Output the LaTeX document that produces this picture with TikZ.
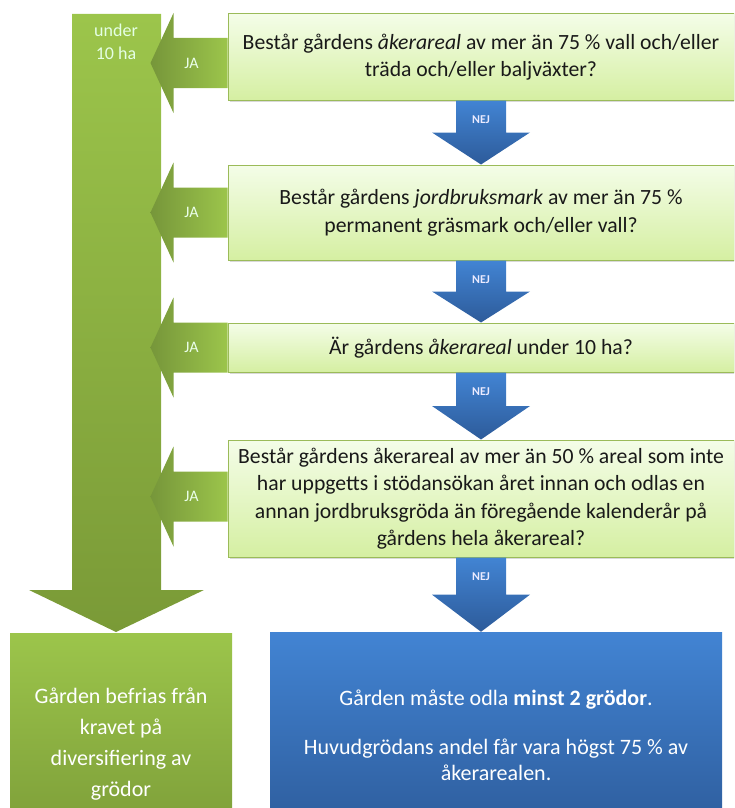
\documentclass[tikz,border=0pt]{standalone}
\usepackage{fontspec}
\setmainfont{Carlito}
\usetikzlibrary{calc,shadows}
\definecolor{gron1}{HTML}{9CC54B}
\definecolor{gron2}{HTML}{7A9A37}
\definecolor{jamork}{HTML}{76963A}
\definecolor{ljus1}{HTML}{F4FDE8}
\definecolor{ljus2}{HTML}{D5EFA2}
\definecolor{kant}{HTML}{9BBB59}
\definecolor{bla1}{HTML}{4284D3}
\definecolor{bla2}{HTML}{2D5B9A}
\tikzstyle{fraga} = [draw=kant, line width=1pt, top color=ljus1, bottom color=ljus2, minimum width=506pt, align=center, inner sep=0pt, text=black!90, font={\fontsize{21.7}{27.5}\selectfont}, drop shadow={opacity=0.3, shadow xshift=1.5pt, shadow yshift=-2pt}]
\tikzstyle{resultat} = [align=center, inner sep=0pt, text=white, font={\fontsize{22}{31}\selectfont}]
\tikzstyle{jatext} = [text=white!92!green, font={\fontsize{16}{18}\selectfont}]
\tikzstyle{nejtext} = [text=white!92!blue, font={\bfseries\fontsize{12}{14}\selectfont}]

\begin{document}
\begin{tikzpicture}[x=1pt,y=-1pt]
    \useasboundingbox (0,0) rectangle (734,808);
    \clip (0,0) rectangle (734,808);
    \shade[top color=gron1, bottom color=gron2] (72,14) -- (161,14) -- (161,590) -- (204,590) -- (116,632) -- (29,590) -- (72,590) -- cycle;
    \node[resultat, font={\fontsize{18}{23}\selectfont}, text=white!90!green](stapel) at (116,42){under\\10 ha};
    \node[fraga, minimum height=86pt](q1) at (481,57){Består gårdens \textit{åkerareal} av mer än 75~\% vall och/eller\\träda och/eller baljväxter?};
    \node[fraga, minimum height=95pt](q2) at (481,212.5){Består gårdens \textit{jordbruksmark} av mer än 75~\%\\permanent gräsmark och/eller vall?};
    \node[fraga, minimum height=49pt](q3) at (481,347.5){Är gårdens \textit{åkerareal} under 10~ha?};
    \node[fraga, minimum height=117pt](q4) at (481,498.5){Består gårdens åkerareal av mer än 50~\% areal som inte\\har uppgetts i stödansökan året innan och odlas en\\annan jordbruksgröda än föregående kalenderår på\\gårdens hela åkerareal?};
    \node[resultat, top color=gron1, bottom color=gron2, minimum width=222pt, minimum height=222pt](befrias) at (121,744){Gården befrias från\\kravet på\\diversifiering av\\grödor};
    \node[resultat, top color=bla1, bottom color=bla2, minimum width=452pt, minimum height=206pt, font={\fontsize{22}{26}\selectfont}](odla) at (496,735){Gården måste odla \textbf{minst 2 grödor}.\\[23pt]Huvudgrödans andel får vara högst 75~\% av\\åkerarealen.};
    \foreach \q/\dy in {q1/6,q2/0,q3/0,q4/-2}{
      \coordinate (ja\q) at ($(\q.west)+(0,\dy)$);
      \shade[left color=jamork, right color=gron1] ($(ja\q)+(0,-25)$) -- ($(ja\q)+(0,25)$) -- ($(ja\q)+(-54,25)$) -- ($(ja\q)+(-54,50)$) -- ($(ja\q)+(-77,0)$) -- ($(ja\q)+(-54,-50)$) -- ($(ja\q)+(-54,-25)$) -- cycle;
      \node[jatext](jatext\q) at ($(ja\q)+(-36,0)$){JA};
    }
    \foreach \a/\b in {q1/q2,q2/q3,q3/q4,q4/odla}{
      \coordinate (topp\a) at (\a.south);
      \coordinate (spets\a) at (\a.south |- \b.north);
      \coordinate (mitt\a) at ($(topp\a)!0.5!(spets\a)$);
      \shade[top color=bla1, bottom color=bla2] ($(topp\a)+(-25,0)$) -- ($(topp\a)+(25,0)$) -- ($(mitt\a)+(25,0)$) -- ($(mitt\a)+(49,0)$) -- (spets\a) -- ($(mitt\a)+(-49,0)$) -- ($(mitt\a)+(-25,0)$) -- cycle;
      \node[nejtext](nej\a) at ($(topp\a)+(0,19)$){NEJ};
    }
\end{tikzpicture}
\end{document}
